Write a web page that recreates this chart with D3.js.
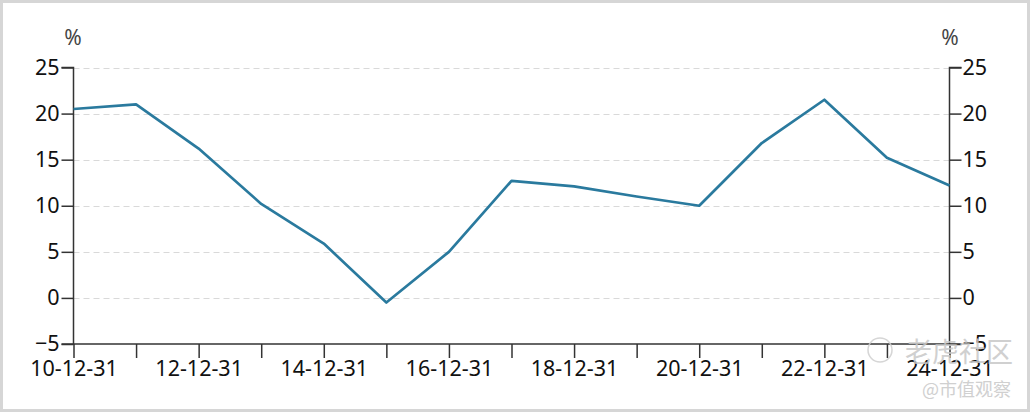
<!DOCTYPE html>
<html><head><meta charset="utf-8">
<script src="https://cdn.jsdelivr.net/npm/d3@7"></script>
<style>
html,body{margin:0;padding:0;background:#fff;}
svg{display:block;font-family:"Noto Sans","Open Sans",sans-serif;}
</style></head><body>
<svg id="c" width="1030" height="412"></svg>
<script>
const categories = ["10-12-31","11-12-31","12-12-31","13-12-31","14-12-31","15-12-31","16-12-31","17-12-31","18-12-31","19-12-31","20-12-31","21-12-31","22-12-31","23-12-31","24-12-31"];
const values = [20.5, 21.0, 16.2, 10.2, 5.9, -0.5, 5.0, 12.7, 12.1, 11.0, 10.0, 16.8, 21.5, 15.2, 12.2];
const yTicks = [-5, 0, 5, 10, 15, 20, 25];
const xLabels = ["10-12-31","12-12-31","14-12-31","16-12-31","18-12-31","20-12-31","22-12-31","24-12-31"];
const unitLabel = "%";

const svg = d3.select("#c");
const L = 73.5, R = 949.5, T = 67.5, B = 344;
svg.append("rect").attr("x",1.5).attr("y",1.5).attr("width",1027).attr("height",409)
  .attr("fill","#fff").attr("stroke","#d6d6d6").attr("stroke-width",3);

const x = d3.scalePoint().domain(categories).range([L, R]);
const y = d3.scaleLinear().domain([-5, 25]).range([B, T]);

// grid
svg.append("g").selectAll("line").data(yTicks.filter(t => t > -5)).join("line")
  .attr("x1", L).attr("x2", R)
  .attr("y1", d => Math.round(y(d)) + 0.5).attr("y2", d => Math.round(y(d)) + 0.5)
  .attr("stroke", "#d9d9d9").attr("stroke-width", 1).attr("stroke-dasharray", "6,4");

const fs = 21.5;
const yl = svg.append("g").attr("transform", `translate(${L},0)`)
  .call(d3.axisLeft(y).tickValues(yTicks).tickSize(12).tickPadding(2).tickFormat(d3.format("d")));
const yr = svg.append("g").attr("transform", `translate(${R},0)`)
  .call(d3.axisRight(y).tickValues(yTicks).tickSize(12).tickPadding(1).tickFormat(d3.format("d")));
const xa = svg.append("g").attr("transform", `translate(0,${B})`)
  .call(d3.axisBottom(x).tickSize(14).tickPadding(3).tickFormat(d => xLabels.includes(d) ? d : ""));

[yl, yr, xa].forEach(g => {
  g.select(".domain").attr("stroke", "#333").attr("stroke-width", 1.5);
  g.selectAll(".tick line").attr("stroke", "#333").attr("stroke-width", 1.5);
  g.selectAll("text").attr("fill", "#111").style("font-size", fs + "px").style("font-family", '"Noto Sans","Open Sans",sans-serif');
});
yl.select(".domain").attr("d", `M-12,${B}H0V${T}H-12`);
yr.select(".domain").attr("d", `M12,${B}H0V${T}H12`);
xa.select(".domain").attr("d", `M${L},0H${R}`);

svg.append("text").attr("x", 73).attr("y", 45).attr("text-anchor", "middle")
  .attr("fill", "#444").style("font-size", "21px").text(unitLabel);
svg.append("text").attr("x", 950).attr("y", 45).attr("text-anchor", "middle")
  .attr("fill", "#444").style("font-size", "21px").text(unitLabel);

// line
svg.append("path").datum(values)
  .attr("fill", "none").attr("stroke", "#2a7a9e").attr("stroke-width", 2.7)
  .attr("stroke-linejoin", "round")
  .attr("d", d3.line().x((d, i) => x(categories[i])).y(d => y(d)));

// watermark
const wm = svg.append("g").attr("fill", "#c8c8c8").attr("opacity", 0.85);
wm.append("circle").attr("cx", 880).attr("cy", 350).attr("r", 12).attr("fill", "none").attr("stroke", "#cfcfcf").attr("stroke-width", 1.5);
wm.append("text").attr("x", 905).attr("y", 362).style("font-size", "27px")
  .style("font-family", '"Noto Sans CJK SC",sans-serif').text("老虎社区");
wm.append("text").attr("x", 922).attr("y", 396).style("font-size", "18px")
  .style("font-family", '"Noto Sans CJK SC",sans-serif').text("@市值观察");
</script>
</body></html>
